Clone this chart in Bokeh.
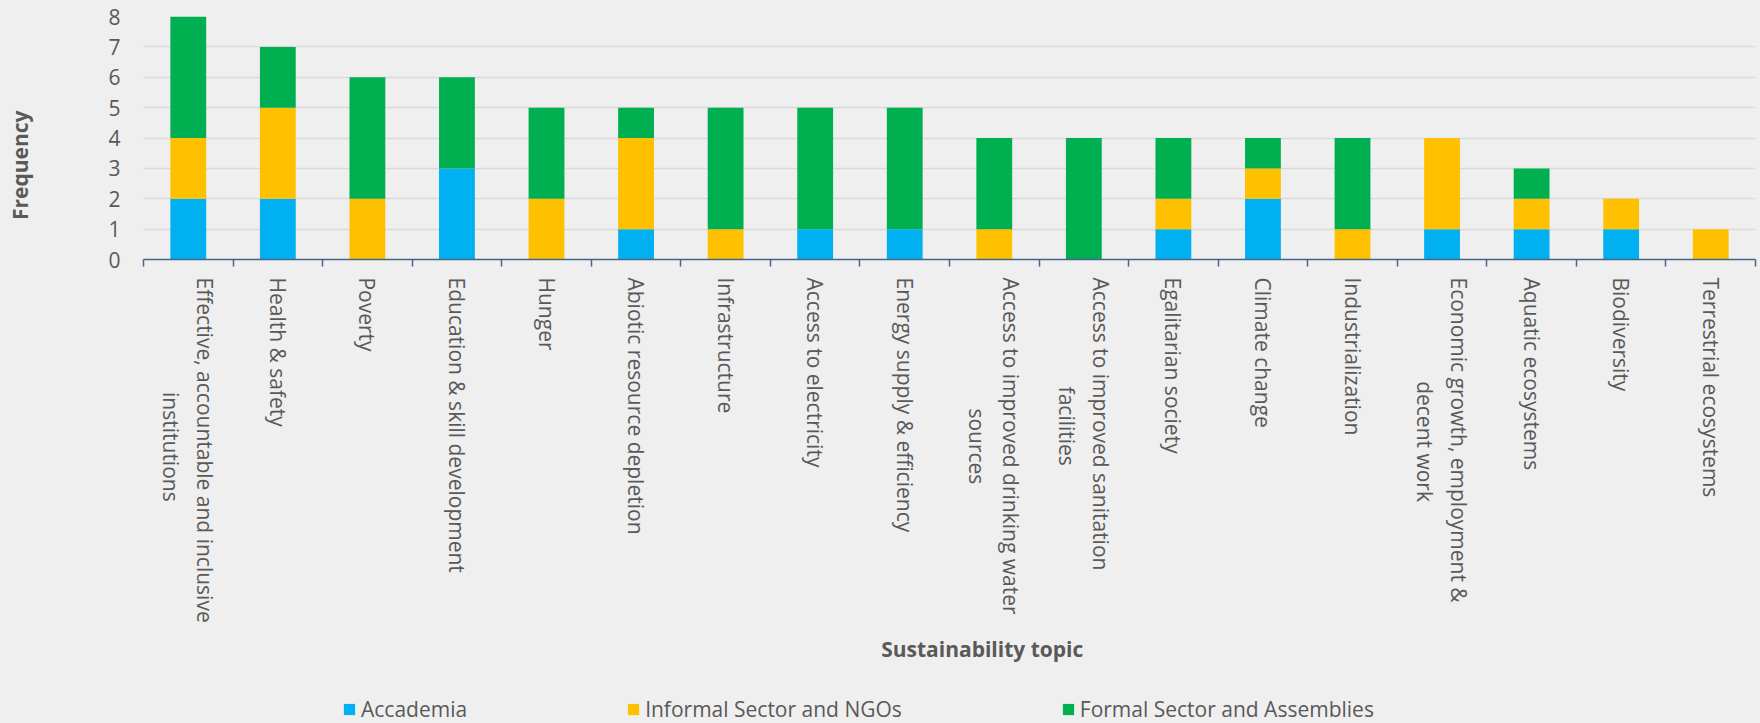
import math
from bokeh.plotting import figure
from bokeh.layouts import column
from bokeh.models import Range1d, FixedTicker, Legend, LegendItem, ColumnDataSource
from bokeh.embed import file_html
from bokeh.resources import INLINE

NB = "\u00a0"

topics = [
    "Effective, accountable and inclusive\n" + NB * 21 + "institutions",
    "Health & safety",
    "Poverty",
    "Education & skill development",
    "Hunger",
    "Abiotic resource depletion",
    "Infrastructure",
    "Access to electricity",
    "Energy supply & efficiency",
    "Access to improved drinking water\n" + NB * 24 + "sources",
    "Access to improved sanitation\n" + NB * 20 + "facilities",
    "Egalitarian society",
    "Climate change",
    "Industrialization",
    "Economic growth, employment &\n" + NB * 19 + "decent work",
    "Aquatic ecosystems",
    "Biodiversity",
    "Terrestrial ecosystems",
]
accademia = [2, 2, 0, 3, 0, 1, 0, 1, 1, 0, 0, 1, 2, 0, 1, 1, 1, 0]
informal = [2, 3, 2, 0, 2, 3, 1, 0, 0, 1, 0, 1, 1, 1, 3, 1, 1, 1]
formal = [4, 2, 4, 3, 3, 1, 4, 4, 4, 3, 4, 2, 1, 3, 0, 1, 0, 0]
series_names = ["Accademia", "Informal Sector and NGOs", "Formal Sector and Assemblies"]
series_keys = ["accademia", "informal", "formal"]
colors = ["#00B0F0", "#FFC000", "#00B050"]
y_ticks = [0, 1, 2, 3, 4, 5, 6, 7, 8]
y_title = "Frequency"
x_title = "Sustainability topic"

FONT = "Open Sans"
TXT = "#595959"
BG = "#EFEFEF"
AXIS = "#44648C"
W = 1760
H1 = 690
H2 = 33

n = len(topics)
pos = [i + 0.5 for i in range(n)]
source = ColumnDataSource(dict(x=pos, accademia=accademia, informal=informal, formal=formal))

p = figure(width=W, height=H1, output_backend="svg", toolbar_location=None,
           x_range=Range1d(0, n), y_range=Range1d(0, 8),
           min_border_left=143, min_border_right=5, min_border_top=16,
           min_border_bottom=H1 - 259)
p.background_fill_color = BG
p.border_fill_color = BG
p.outline_line_color = None

renderers = p.vbar_stack(series_keys, x="x", width=0.4, color=colors, source=source,
                         line_color=None)

# y axis
p.yaxis.ticker = FixedTicker(ticks=y_ticks)
p.yaxis.axis_line_color = None
p.yaxis.major_tick_line_color = None
p.yaxis.minor_tick_line_color = None
p.yaxis.major_tick_out = 0
p.yaxis.major_tick_in = 0
p.yaxis.major_label_standoff = 23
p.yaxis.major_label_text_font = FONT
p.yaxis.major_label_text_font_size = "21px"
p.yaxis.major_label_text_color = TXT
p.yaxis.axis_label = y_title + NB * 10
p.yaxis.axis_label_standoff = 71
p.yaxis.axis_label_text_font = FONT
p.yaxis.axis_label_text_font_size = "21px"
p.yaxis.axis_label_text_font_style = "bold"
p.yaxis.axis_label_text_color = TXT

# x axis
p.xaxis.ticker = FixedTicker(ticks=pos, minor_ticks=list(range(n + 1)))
p.xaxis.major_label_overrides = {pos[i]: topics[i] for i in range(n)}
p.xaxis.major_label_orientation = -math.pi / 2
p.xaxis.major_tick_line_color = None
p.xaxis.major_tick_out = 0
p.xaxis.major_tick_in = 0
p.xaxis.minor_tick_line_color = AXIS
p.xaxis.minor_tick_line_width = 1.5
p.xaxis.minor_tick_out = 7
p.xaxis.minor_tick_in = 0
p.xaxis.axis_line_color = AXIS
p.xaxis.axis_line_width = 1.5
p.xaxis.major_label_standoff = 11
p.xaxis.major_label_text_font = FONT
p.xaxis.major_label_text_font_size = "21px"
p.xaxis.major_label_text_color = TXT
p.xaxis.axis_label = NB * 12 + x_title
p.xaxis.axis_label_standoff = 9
p.xaxis.axis_label_text_font = FONT
p.xaxis.axis_label_text_font_size = "21px"
p.xaxis.axis_label_text_font_style = "bold"
p.xaxis.axis_label_text_color = TXT

p.xgrid.visible = False
p.ygrid.grid_line_color = "#D9D9D9"
p.ygrid.grid_line_width = 1.5

# legend strip (zero-height swatch glyphs, drawn only in the legend)
q = figure(width=W, height=H2, output_backend="svg", toolbar_location=None,
           x_range=Range1d(0, 1), y_range=Range1d(0, 1),
           min_border_left=0, min_border_right=0, min_border_top=0, min_border_bottom=0)
q.background_fill_color = BG
q.border_fill_color = BG
q.outline_line_color = None
q.axis.visible = False
q.grid.visible = False
swatches = [q.vbar(x=[0.5], top=[0], bottom=[0], width=0.0, fill_color=c, line_color=None)
            for c in colors]
legend = Legend(items=[LegendItem(label=series_names[i], renderers=[swatches[i]])
                       for i in range(3)],
                orientation="horizontal", location=(199, 0),
                background_fill_alpha=0, border_line_color=None,
                label_text_font=FONT, label_text_font_size="21px", label_text_color=TXT,
                glyph_width=14, glyph_height=14, label_standoff=5, spacing=159,
                padding=0, margin=0)
q.add_layout(legend, "center")

layout = column(p, q, spacing=0)
layout.styles = {"background-color": BG}
with open("out.html", "w", encoding="utf-8") as f:
    f.write(file_html(layout, INLINE))
